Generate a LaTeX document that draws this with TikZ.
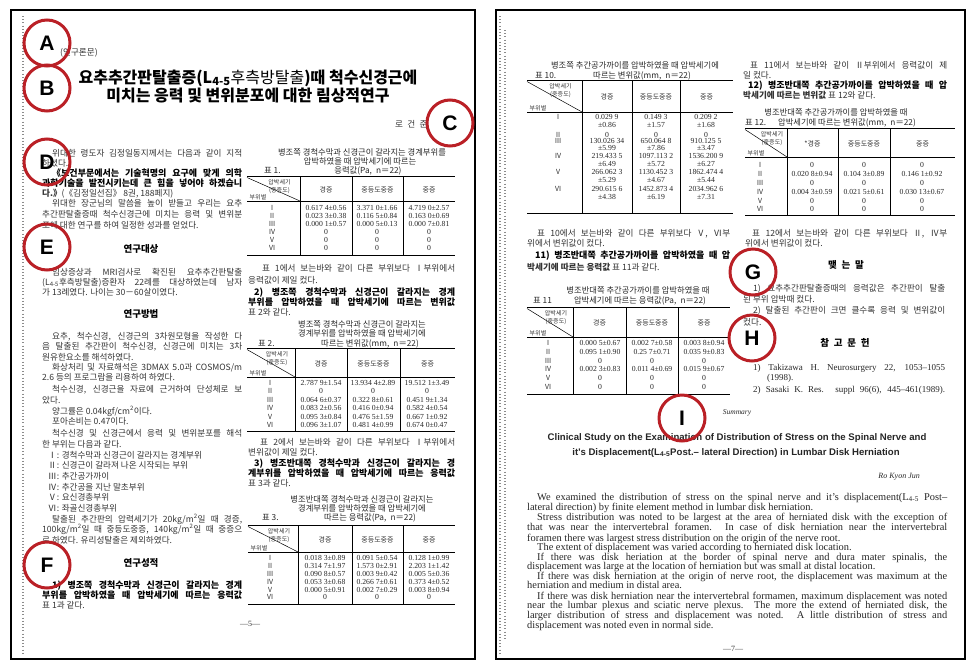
\documentclass[tikz,border=0pt]{standalone}
\usepackage{fontspec}
\setmainfont{Liberation Serif}
\newfontfamily\kr{Noto Sans CJK KR}
\newfontfamily\lsans{Liberation Sans}
\definecolor{markred}{RGB}{186,32,38}

\tikzset{
  pageframe/.style={draw=black, line width=1.6pt},
  scanspeck/.style={draw=black!45, line width=1.2pt, dash pattern=on 0.8pt off 2.4pt},
  kbody/.style={anchor=base west, inner sep=0pt, yshift=-3.3pt, text=black!80,
    font=\kr\fontsize{8.6}{9}\selectfont},
  kbold/.style={kbody, text=black, font=\kr\bfseries\fontsize{9}{9}\selectfont},
  khead/.style={anchor=base, inner sep=0pt, yshift=-3.6pt, font=\kr\bfseries\fontsize{9.5}{11}\selectfont},
  ktitle/.style={anchor=base, inner sep=0pt, yshift=-6pt, font=\kr\bfseries\fontsize{16}{18}\selectfont},
  kcap/.style={anchor=base, inner sep=0pt, yshift=-3.1pt, text=black!85, font=\kr\fontsize{8.3}{9}\selectfont},
  kcapl/.style={kcap, anchor=base west},
  kcorner/.style={anchor=base, inner sep=0pt, yshift=-2.2pt, text=black!80, font=\kr\fontsize{6}{7}\selectfont},
  kcol/.style={anchor=base, inner sep=0pt, yshift=-2.6pt, text=black!80, font=\kr\fontsize{7}{8}\selectfont},
  krow/.style={kcol},
  vcell/.style={anchor=base, inner sep=0pt, yshift=-2.5pt, text=black!85, font=\fontsize{7.7}{8}\selectfont},
  rule/.style={line width=0.5pt},
  toprule/.style={line width=1pt},
  ebody/.style={anchor=base west, inner sep=0pt, yshift=-3.3pt, text=black!85, font=\fontsize{10.4}{10}\selectfont},
  eref/.style={ebody, font=\fontsize{9}{9}\selectfont},
  etitle/.style={anchor=base, inner sep=0pt, yshift=-3.4pt, text=black!85, font=\lsans\bfseries\fontsize{9.6}{10}\selectfont},
  pnum/.style={anchor=base, inner sep=0pt, yshift=-3pt, text=black!80, font=\fontsize{8}{9}\selectfont},
  ringmark/.style={circle, draw=markred, line width=3pt, minimum size=46pt, inner sep=0pt,
    font=\lsans\bfseries\fontsize{21}{21}\selectfont}
}

% one justified line, one line that ends a paragraph
\newcounter{tl}
\newcommand\tline[4][kbody]{\stepcounter{tl}\node[#1] (tl\thetl) at (#2) {\makebox[#3pt][s]{#4}};}
\newcommand\pline[3][kbody]{\stepcounter{tl}\node[#1] (tl\thetl) at (#2) {#3};}

% rules and head of a table: left, right, top, head bottom, bottom, three column lines, first column head
\newcommand\tablegrid[9]{%
  \draw[toprule] (#1,#3) -- (#2,#3);
  \draw[rule] (#1,#4) -- (#2,#4);
  \draw[toprule] (#1,#5) -- (#2,#5);
  \foreach \cx in {#6,#7,#8} \draw[rule] (\cx,#3) -- (\cx,#5);
  \draw[rule] (#1,{#3+1.5}) -- (#6,#4);
  \node[kcorner] (g#3a) at ({(#1+#6)/2+6},{#3+6}) {압박세기};
  \node[kcorner] (g#3b) at ({(#1+#6)/2+6},{#3+14}) {(중증도)};
  \node[kcorner] (g#3c) at ({#1+11},{#4-4}) {부위별};
  \node[kcol] (g#3d) at ({(#6+#7)/2},{(#3+#4)/2+1}) {#9};
  \node[kcol] (g#3e) at ({(#7+#8)/2},{(#3+#4)/2+1}) {중등도중증};
  \node[kcol] (g#3f) at ({(#8+#2)/2},{(#3+#4)/2+1}) {중증};
}

\begin{document}
\begin{tikzpicture}[x=1pt, y=-1pt]
\useasboundingbox (0,0) rectangle (969,662);

% pages
\draw[pageframe] (11,10) rectangle (475,659);
\draw[pageframe] (496,10) rectangle (965,659);
\draw[scanspeck] (23,16) -- (23,654);
\draw[scanspeck] (500,16) -- (500,654);
\draw[scanspeck] (505,30) -- (505,640);

% ---- page 5 ----
\pline{60,52}{(연구론문)}
\node[ktitle] (title1) at (248,77) {요추추간판탈출증(L\textsubscript{4-5}{\mdseries 후측방탈출})때 척수신경근에};
\node[ktitle] (title2) at (248,95) {미치는 응력 및 변위분포에 대한 림상적연구};
\pline{395,124}{로\enspace 건\enspace 준}

% left column
\tline{52,153}{190}{위대한 령도자 김정일동지께서는 다음과 같이 지적}
\pline{42,163}{하셨다.}
\tline[kbold]{52,173}{190}{《보건부문에서는 기술혁명의 요구에 맞게 의학}
\tline[kbold]{42,183}{200}{과학기술을 발전시키는데 큰 힘을 넣어야 하겠습니}
\pline{42,193}{\textbf{다.》}(《김정일선집》 8권, 188페지)}
\tline{52,203}{190}{위대한 장군님의 말씀을 높이 받들고 우리는 요추}
\tline{42,214}{200}{추간판탈출증때 척수신경근에 미치는 응력 및 변위분}
\pline{42,225}{포에 대한 연구를 하여 일정한 성과를 얻었다.}
\node[khead] (hsubj) at (141,249) {연구대상};
\tline{52,272}{190}{임상증상과 MRI검사로 확진된 요추추간판탈출}
\tline{42,282}{200}{(L\textsubscript{4-5}후측방탈출)증환자 22례를 대상하였는데 남자}
\pline{42,292}{가 13례였다. 나이는 30－60살이였다.}
\node[khead] (hmeth) at (141,314) {연구방법};
\tline{52,336}{190}{요추, 척수신경, 신경근의 3차원모형을 작성한 다}
\tline{42,346}{200}{음 탈출된 추간판이 척수신경, 신경근에 미치는 3차}
\pline{42,357}{원유한요소를 해석하였다.}
\tline{52,367}{190}{화상처리 및 자료해석은 3DMAX 5.0과 COSMOS/m}
\pline{42,377}{2.6 등의 프로그람을 리용하여 하였다.}
\tline{52,389}{190}{척수신경, 신경근을 자료에 근거하여 단성체로 보}
\pline{42,400}{았다.}
\pline{52,411}{양그률은 0.04kgf/cm\textsuperscript{2}이다.}
\pline{52,421}{포아손비는 0.47이다.}
\tline{52,433}{190}{척수신경 및 신경근에서 응력 및 변위분포를 해석}
\pline{42,444}{한 부위는 다음과 같다.}
\pline{48,455}{Ⅰ: 경척수막과 신경근이 갈라지는 경계부위}
\pline{48,465}{Ⅱ: 신경근이 갈라져 나온 시작되는 부위}
\pline{48,476}{Ⅲ: 추간공가까이}
\pline{48,487}{Ⅳ: 추간공을 지난 말초부위}
\pline{48,497}{Ⅴ: 요신경총부위}
\pline{48,508}{Ⅵ: 좌골신경총부위}
\tline{52,519}{190}{탈출된 추간판의 압력세기가 20kg/m\textsuperscript{2}일 때 경증,}
\tline{42,529}{200}{100kg/m\textsuperscript{2}일 때 중등도중증, 140kg/m\textsuperscript{2}일 때 중증으}
\pline{42,540}{로 하였다. 유리성탈출은 제외하였다.}
\node[khead] (hres) at (141,563) {연구성적};
\tline[kbold]{52,585}{190}{1) 병조쪽 경척수막과 신경근이 갈라지는 경계}
\tline[kbold]{42,595}{200}{부위를 압박하였을 때 압박세기에 따르는 응력값}
\pline{42,605}{표 1과 같다.}
\node[pnum] (pg5) at (250,623) {\textemdash 5\textemdash};

% right column, table 1
\node[kcap] (cap1a) at (362,152) {병조쪽 경척수막과 신경근이 갈라지는 경계부위를};
\node[kcap] (cap1b) at (360,161) {압박하였을 때 압박세기에 따르는};
\node[kcap] (cap1c) at (368,170) {응력값(Pa,\enspace n＝22)};
\node[kcapl] (cap1n) at (264,170) {표 1.};
\tablegrid{247}{455}{176}{201}{255}{300}{352}{403}{경증}
\foreach \r/\y/\a/\b/\c [count=\i] in {Ⅰ/208/{0.617 4±0.56}/{3.371 0±1.66}/{4.719 0±2.57},
    Ⅱ/216/{0.023 3±0.38}/{0.116 5±0.84}/{0.163 0±0.69},
    Ⅲ/224/{0.000 1±0.57}/{0.000 5±0.13}/{0.000 7±0.81},
    Ⅳ/232/0/0/0, Ⅴ/240/0/0/0, Ⅵ/248/0/0/0}{
  \node[krow] (t1r\i) at (272,\y) {\r};
  \node[vcell] (t1a\i) at (326,\y) {\a};
  \node[vcell] (t1b\i) at (377,\y) {\b};
  \node[vcell] (t1c\i) at (429,\y) {\c};
}
\tline{262,268}{193}{표 1에서 보는바와 같이 다른 부위보다 Ⅰ부위에서}
\pline{248,280}{응력값이 제일 컸다.}
\tline[kbold]{254,292}{201}{2) 병조쪽 경척수막과 신경근이 갈라지는 경계}
\tline[kbold]{248,302}{207}{부위를 압박하였을 때 압박세기에 따르는 변위값}
\pline{248,312}{표 2와 같다.}

% table 2
\node[kcap] (cap2a) at (362,324) {병조쪽 경척수막과 신경근이 갈라지는};
\node[kcap] (cap2b) at (362,333) {경계부위를 압박하였을 때 압박세기에};
\node[kcap] (cap2c) at (370,343) {따르는 변위값(mm,\enspace n＝22)};
\node[kcapl] (cap2n) at (258,343) {표 2.};
\tablegrid{247}{455}{348}{377}{431}{295}{347}{400}{경증}
\foreach \r/\y/\a/\b/\c [count=\i] in {Ⅰ/383/{2.787 9±1.54}/{13.934 4±2.89}/{19.512 1±3.49},
    Ⅱ/391/0/0/0,
    Ⅲ/400/{0.064 6±0.37}/{0.322 8±0.61}/{0.451 9±1.34},
    Ⅳ/408/{0.083 2±0.56}/{0.416 0±0.94}/{0.582 4±0.54},
    Ⅴ/417/{0.095 3±0.84}/{0.476 5±1.59}/{0.667 1±0.92},
    Ⅵ/425/{0.096 3±1.07}/{0.481 4±0.99}/{0.674 0±0.47}}{
  \node[krow] (t2r\i) at (270,\y) {\r};
  \node[vcell] (t2a\i) at (321,\y) {\a};
  \node[vcell] (t2b\i) at (373,\y) {\b};
  \node[vcell] (t2c\i) at (427,\y) {\c};
}
\tline{260,442}{195}{표 2에서 보는바와 같이 다른 부위보다 Ⅰ부위에서}
\pline{248,452}{변위값이 제일 컸다.}
\tline[kbold]{254,463}{201}{3) 병조반대쪽 경척수막과 신경근이 갈라지는 경}
\tline[kbold]{248,473}{207}{계부위를 압박하였을 때 압박세기에 따르는 응력값}
\pline{248,483}{표 3과 같다.}

% table 3
\node[kcap] (cap3a) at (362,499) {병조반대쪽 경척수막과 신경근이 갈라지는};
\node[kcap] (cap3b) at (362,508) {경계부위를 압박하였을 때 압박세기에};
\node[kcap] (cap3c) at (370,517) {따르는 응력값(Pa,\enspace n＝22)};
\node[kcapl] (cap3n) at (262,517) {표 3.};
\tablegrid{248}{455}{525}{552}{604}{298}{352}{403}{경증}
\foreach \r/\y/\a/\b/\c [count=\i] in {Ⅰ/558/{0.018 3±0.89}/{0.091 5±0.54}/{0.128 1±0.99},
    Ⅱ/566/{0.314 7±1.97}/{1.573 0±2.91}/{2.203 1±1.42},
    Ⅲ/574/{0.090 8±0.57}/{0.003 9±0.42}/{0.005 5±0.36},
    Ⅳ/582/{0.053 3±0.68}/{0.266 7±0.61}/{0.373 4±0.52},
    Ⅴ/590/{0.000 5±0.91}/{0.002 7±0.29}/{0.003 8±0.94},
    Ⅵ/597/0/0/0}{
  \node[krow] (t3r\i) at (270,\y) {\r};
  \node[vcell] (t3a\i) at (325,\y) {\a};
  \node[vcell] (t3b\i) at (377,\y) {\b};
  \node[vcell] (t3c\i) at (429,\y) {\c};
}

% ---- page 7 ----
% table 10
\node[kcap] (cap10a) at (635,65) {병조쪽 추간공가까이를 압박하였을 때 압박세기에};
\node[kcapl] (cap10n) at (535,75) {표 10.};
\node[kcap] (cap10b) at (642,75) {따르는 변위값(mm,\enspace n＝22)};
\tablegrid{527}{733}{80}{112}{213}{582}{632}{680}{경증}
\foreach \r/\y/\a/\b/\c [count=\i] in {Ⅰ/117/{0.029 9}/{0.149 3}/{0.209 2},
    /125/{±0.86}/{±1.57}/{±1.68},
    Ⅱ/135/0/0/0,
    Ⅲ/141/{130.026 34}/{650.064 8}/{910.125 5},
    /148/{±5.99}/{±7.86}/{±3.47},
    Ⅳ/156/{219.433 5}/{1097.113 2}/{1536.200 9},
    /164/{±6.49}/{±5.72}/{±6.27},
    Ⅴ/172/{266.062 3}/{1130.452 3}/{1862.474 4},
    /180/{±5.29}/{±4.67}/{±5.44},
    Ⅵ/189/{290.615 6}/{1452.873 4}/{2034.962 6},
    /197/{±4.38}/{±6.19}/{±7.31}}{
  \node[krow] (t10r\i) at (558,\y) {\r};
  \node[vcell] (t10a\i) at (607,\y) {\a};
  \node[vcell] (t10b\i) at (656,\y) {\b};
  \node[vcell] (t10c\i) at (706,\y) {\c};
}
\tline{537,233}{193}{표 10에서 보는바와 같이 다른 부위보다 Ⅴ, Ⅵ부}
\pline{527,243}{위에서 변위값이 컸다.}
\tline[kbold]{535,255}{195}{11) 병조반대쪽 추간공가까이를 압박하였을 때 압}
\pline{527,267}{\textbf{박세기에 따르는 응력값} 표 11과 같다.}

% table 11
\node[kcap] (cap11a) at (638,290) {병조반대쪽 추간공가까이를 압박하였을 때};
\node[kcapl] (cap11n) at (533,300) {표 11};
\node[kcap] (cap11b) at (640,300) {압박세기에 따르는 응력값(Pa,\enspace n＝22)};
\tablegrid{527}{730}{307}{337}{394}{573}{626}{678}{경증}
\foreach \r/\y/\a/\b/\c [count=\i] in {Ⅰ/343/{0.000 5±0.67}/{0.002 7±0.58}/{0.003 8±0.94},
    Ⅱ/352/{0.095 1±0.90}/{0.25 7±0.71}/{0.035 9±0.83},
    Ⅲ/361/0/0/0,
    Ⅳ/369/{0.002 3±0.83}/{0.011 4±0.69}/{0.015 9±0.67},
    Ⅴ/378/0/0/0, Ⅵ/387/0/0/0}{
  \node[krow] (t11r\i) at (548,\y) {\r};
  \node[vcell] (t11a\i) at (600,\y) {\a};
  \node[vcell] (t11b\i) at (652,\y) {\b};
  \node[vcell] (t11c\i) at (704,\y) {\c};
}

% right column
\tline{750,65}{197}{표 11에서 보는바와 같이 Ⅱ부위에서 응력값이 제}
\pline{743,75}{일 컸다.}
\tline[kbold]{748,85}{199}{12) 병조반대쪽 추간공가까이를 압박하였을 때 압}
\pline{743,95}{\textbf{박세기에 따르는 변위값} 표 12와 같다.}

% table 12
\node[kcap] (cap12a) at (836,112) {병조반대쪽 추간공가까이를 압박하였을 때};
\node[kcapl] (cap12n) at (745,122) {표 12.};
\node[kcap] (cap12b) at (847,122) {압박세기에 따르는 변위값(mm,\enspace n＝22)};
\tablegrid{745}{955}{128}{157}{215}{787}{838}{890}{*경증}
\foreach \r/\y/\a/\b/\c [count=\i] in {Ⅰ/165/0/0/0,
    Ⅱ/174/{0.020 8±0.94}/{0.104 3±0.89}/{0.146 1±0.92},
    Ⅲ/183/0/0/0,
    Ⅳ/192/{0.004 3±0.59}/{0.021 5±0.61}/{0.030 13±0.67},
    Ⅴ/201/0/0/0, Ⅵ/209/0/0/0}{
  \node[krow] (t12r\i) at (760,\y) {\r};
  \node[vcell] (t12a\i) at (812,\y) {\a};
  \node[vcell] (t12b\i) at (864,\y) {\b};
  \node[vcell] (t12c\i) at (922,\y) {\c};
}
\tline{752,233}{195}{표 12에서 보는바와 같이 다른 부위보다 Ⅱ, Ⅳ부}
\pline{745,243}{위에서 변위값이 컸다.}
\node[khead] (hconc) at (846,265) {맺\enspace 는\enspace 말};
\tline{753,288}{192}{1) 요추추간판탈출증때의 응력값은 추간판이 탈출}
\pline{743,299}{된 부위 압박때 컸다.}
\tline{753,310}{192}{2) 탈출된 추간판이 크면 클수록 응력 및 변위값이}
\pline{743,322}{컸다.}
\node[khead] (hrefs) at (845,343) {참\enspace 고\enspace 문\enspace 헌};
\tline[eref]{753,367}{192}{1) Takizawa H. Neurosurgery 22, 1053\textendash 1055}
\pline[eref]{767,377}{(1998).}
\tline[eref]{753,389}{192}{2) Sasaki K. Res. suppl 96(6), 445\textendash 461(1989).}

% summary
\node[anchor=base, inner sep=0pt, yshift=-2.8pt, text=black!85, font=\itshape\fontsize{7.5}{8}\selectfont] (summ) at (737,412) {Summary};
\node[etitle] (etit1) at (737,437) {Clinical Study on the Examination of Distribution of Stress on the Spinal Nerve and};
\node[etitle] (etit2) at (736,452) {it's Displacement(L\textsubscript{4-5}Post.\textendash\ lateral Direction) in Lumbar Disk Herniation};
\node[anchor=base east, inner sep=0pt, yshift=-2.8pt, text=black!85, font=\itshape\fontsize{8}{9}\selectfont] (auth) at (920,476) {Ro Kyon Jun};
\tline[ebody]{537,497}{410}{We examined the distribution of stress on the spinal nerve and it's displacement(L\textsubscript{4-5} Post\textendash}
\pline[ebody]{527,507}{lateral direction) by finite element method in lumbar disk herniation.}
\tline[ebody]{537,517}{410}{Stress distribution was noted to be largest at the area of herniated disk with the exception of}
\tline[ebody]{527,527}{420}{that was near the intervertebral foramen. In case of disk herniation near the intervertebral}
\pline[ebody]{527,538}{foramen there was largest stress distribution on the origin of the nerve root.}
\pline[ebody]{537,547}{The extent of displacement was varied according to herniated disk location.}
\tline[ebody]{537,557}{410}{If there was disk heriation at the border of spinal nerve and dura mater spinalis, the}
\pline[ebody]{527,566}{displacement was large at the location of herniation but was small at distal location.}
\tline[ebody]{537,576}{410}{If there was disk herniation at the origin of nerve root, the displacement was maximum at the}
\pline[ebody]{527,585}{herniation and medium in distal area.}
\tline[ebody]{537,596}{410}{If there was disk herniation near the intervertebral formamen, maximum displacement was noted}
\tline[ebody]{527,605}{420}{near the lumbar plexus and sciatic nerve plexus. The more the extend of herniated disk, the}
\tline[ebody]{527,615}{420}{larger distribution of stress and displacement was noted. A little distribution of stress and}
\pline[ebody]{527,625}{displacement was noted even in normal side.}
\node[pnum] (pg7) at (733,648) {\textemdash 7\textemdash};

% markers
\node[ringmark] (mA) at (47,43) {A};
\node[ringmark] (mB) at (47,88) {B};
\node[ringmark] (mC) at (450,123) {C};
\node[ringmark] (mD) at (47,162) {D};
\node[ringmark] (mE) at (47,247) {E};
\node[ringmark] (mF) at (47,565) {F};
\node[ringmark] (mG) at (753,272) {G};
\node[ringmark] (mH) at (752,338) {H};
\node[ringmark] (mI) at (682,418) {I};
\end{tikzpicture}
\end{document}
